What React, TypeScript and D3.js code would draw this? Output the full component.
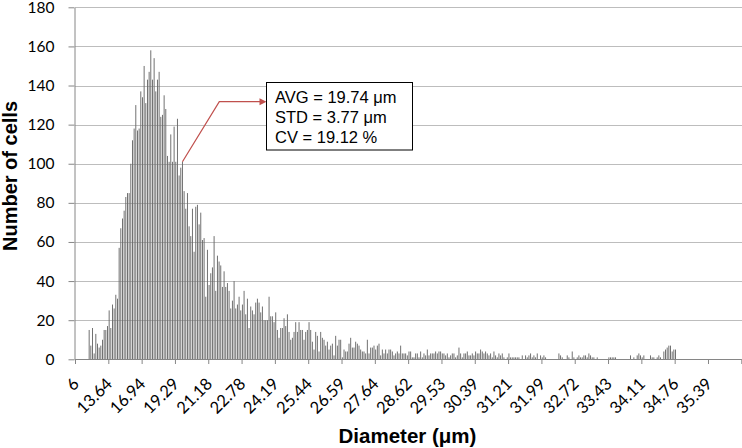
import React, { useEffect, useRef } from "react";
import * as d3 from "d3";

// histogram bins: equal-volume classes, labelled every 20th bin
const binTotal = 400;
const tickLabels = [
  "6", "13.64", "16.94", "19.29", "21.18", "22.78", "24.19", "25.44", "26.59", "27.64",
  "28.62", "29.53", "30.39", "31.21", "31.99", "32.72", "33.43", "34.11", "34.76", "35.39",
];
const yTicks = [0, 20, 40, 60, 80, 100, 120, 140, 160, 180];

// number of cells per bin, bin 0 .. 360
const counts = [
  0, 0, 0, 0, 0, 0, 0, 0,
  15, 7, 16, 3, 13, 8, 6, 7, 10, 15, 15, 17, 25, 16, 28, 26, 33, 31,
  57, 67, 72, 76, 83, 85, 85, 100, 112, 118, 130, 117, 118, 137, 134, 150, 131, 143, 147, 158,
  143, 154, 137, 143, 147, 124, 125, 135, 128, 104, 101, 115, 101, 119, 101, 123, 94, 98, 101,
  86, 77, 85, 68, 63, 77, 55, 78, 79, 69, 75, 61, 62, 32, 56, 38, 44, 47, 63, 35,
  53, 50, 48, 37, 45, 37, 39, 35, 26, 30, 40, 26, 28, 32, 25, 28, 35, 23, 31, 16,
  27, 25, 23, 29, 31, 29, 24, 27, 20, 20, 20, 32, 22, 22, 19, 24, 15, 11, 16, 16,
  21, 17, 23, 14, 10, 11, 14, 19, 14, 19,
  15, 15, 10, 14, 15, 19, 15, 9, 5, 14, 12, 4, 14, 11, 10, 7, 9, 5, 7, 8,
  2, 12, 7, 10, 10, 1, 5, 4, 4, 8, 11, 6, 6, 9, 8, 7, 5, 4, 4, 3,
  10, 3, 6, 6, 7, 5, 7, 8, 2, 5, 3, 5, 3, 5, 5, 4, 2, 3, 4, 3,
  7, 3, 3, 3, 2, 4, 4, 1, 1, 3, 3, 1,
  4, 1, 3, 2, 5, 2, 3, 3, 3, 4, 3, 4, 4, 3, 3, 2, 3, 1, 2, 3,
  3, 1, 2, 6, 3, 1, 3, 3, 4, 2, 2, 3, 2, 4, 3, 3, 5, 4, 3, 4,
  3, 2, 3, 1, 4, 2, 1, 3, 2, 3, 1, 0, 1, 3, 1, 1, 1, 1, 1, 1,
  0, 2, 0, 2, 1, 2, 3, 1, 2, 1, 3, 0, 2, 1, 2,
  1, 0, 0, 0, 0, 0, 0, 0, 3, 2, 1, 0, 0, 2, 1, 0, 4, 1,
  0, 1, 2, 1, 1, 2, 2, 1, 3, 2, 1, 1, 0, 1, 0, 0, 0, 0, 0, 0,
  1, 1, 1, 1, 1, 0, 0, 0, 0, 0, 0, 0, 0, 2, 0, 1, 0, 2, 3, 2,
  1, 2, 0, 0, 0, 2, 1, 1, 0, 1, 2, 1, 0, 4, 5, 6, 7, 7, 4, 5, 5,
];

const statLines = ["AVG = 19.74 μm", "STD = 3.77 μm", "CV = 19.12 %"];
const calloutBin = 64;

const tickFont = "Lato, 'Open Sans', sans-serif";
const titleFont = "'Liberation Sans', Arial, sans-serif";

export default function App() {
  const ref = useRef<SVGSVGElement>(null);

  useEffect(() => {
    const svg = d3.select(ref.current);
    svg.selectAll("*").remove();

    const x = d3.scaleLinear().domain([0, binTotal]).range([75, 741.3]);
    const y = d3.scaleLinear().domain([0, 180]).range([359.3, 7.3]);
    const bw = x(1) - x(0);

    // gridlines
    svg.append("g")
      .selectAll("line")
      .data(yTicks.slice(1))
      .join("line")
      .attr("x1", 75)
      .attr("x2", 742)
      .attr("y1", (d) => Math.round(y(d)) + 0.5)
      .attr("y2", (d) => Math.round(y(d)) + 0.5)
      .attr("stroke", "#bdbdbd")
      .attr("stroke-width", 1);

    // bars
    svg.append("g")
      .selectAll("rect")
      .data(counts)
      .join("rect")
      .attr("x", (d, i) => x(i) + (bw - 0.95) / 2)
      .attr("width", 0.95)
      .attr("y", (d) => y(d))
      .attr("height", (d) => y(0) - y(d))
      .attr("fill", "#6a6a6a");

    // y axis
    const gy = svg.append("g")
      .attr("transform", "translate(74.5,0)")
      .call(d3.axisLeft(y).tickValues(yTicks).tickSize(6).tickSizeOuter(0).tickPadding(14));
    gy.select(".domain").attr("stroke", "#868686");
    gy.selectAll(".tick line").attr("stroke", "#868686");
    gy.selectAll(".tick text")
      .attr("font-family", tickFont)
      .attr("font-size", 15.5)
      .attr("fill", "#000");

    // x axis
    const gx = svg.append("g")
      .attr("transform", `translate(0,${Math.round(y(0))})`)
      .call(
        d3.axisBottom(x)
          .tickValues(d3.range(0, binTotal + 1, 20))
          .tickSize(5)
          .tickSizeOuter(0)
          .tickFormat((d, i) => tickLabels[i] ?? "")
      );
    gx.select(".domain").attr("stroke", "#868686");
    gx.selectAll(".tick line").attr("stroke", "#868686");
    gx.selectAll(".tick text")
      .attr("x", 0)
      .attr("y", 0)
      .attr("dy", null)
      .attr("text-anchor", "end")
      .attr("transform", "translate(4.5,26) rotate(-45)")
      .attr("font-family", tickFont)
      .attr("font-size", 16.5)
      .attr("fill", "#000");

    // axis titles
    svg.append("text")
      .attr("x", 407.5)
      .attr("y", 443)
      .attr("text-anchor", "middle")
      .attr("font-family", titleFont)
      .attr("font-weight", "bold")
      .attr("font-size", 20.5)
      .text("Diameter (μm)");

    svg.append("text")
      .attr("transform", "translate(16.5,176) rotate(-90)")
      .attr("text-anchor", "middle")
      .attr("font-family", titleFont)
      .attr("font-weight", "bold")
      .attr("font-size", 20)
      .text("Number of cells");

    // callout
    const px = x(calloutBin) + bw / 2;
    const py = y(counts[calloutBin]);
    const boxX = 266.5;
    const boxY = 82.5;
    const arrowY = 101.7;
    svg.append("path")
      .attr("d", `M${px},${py}L219.3,${arrowY}L${boxX - 6},${arrowY}`)
      .attr("fill", "none")
      .attr("stroke", "#c0504d")
      .attr("stroke-width", 1.2);
    svg.append("path")
      .attr("d", `M${boxX},${arrowY}L${boxX - 7},${arrowY - 3.5}L${boxX - 7},${arrowY + 3.5}Z`)
      .attr("fill", "#c0504d");

    svg.append("rect")
      .attr("x", boxX)
      .attr("y", boxY)
      .attr("width", 146)
      .attr("height", 67.5)
      .attr("fill", "#fff")
      .attr("stroke", "#000")
      .attr("stroke-width", 1);

    svg.append("g")
      .selectAll("text")
      .data(statLines)
      .join("text")
      .attr("x", boxX + 8.5)
      .attr("y", (d, i) => 102.8 + i * 20.2)
      .attr("font-family", titleFont)
      .attr("font-size", 16.5)
      .attr("fill", "#000")
      .text((d) => d);
  }, []);

  return (
    <svg
      ref={ref}
      width={742}
      height={448}
      style={{ position: "absolute", left: 0, top: 0, background: "#fff" }}
    />
  );
}
